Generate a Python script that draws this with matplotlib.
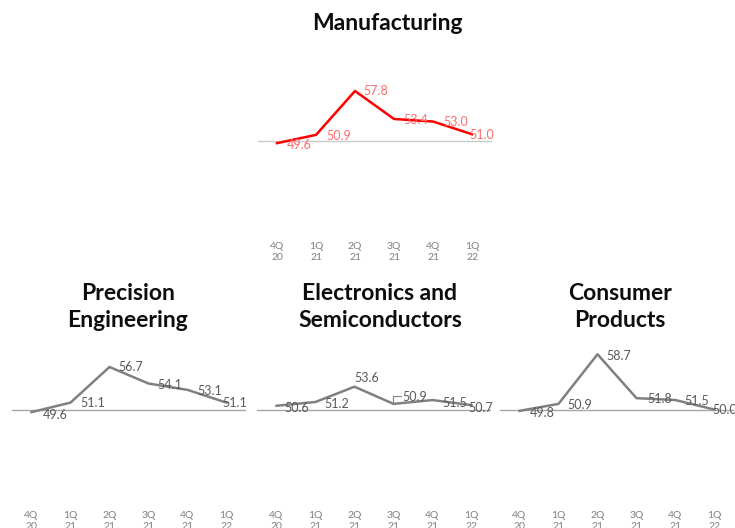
import matplotlib.pyplot as plt

plt.rcParams['font.family'] = ['Lato', 'DejaVu Sans']

quarters = ['4Q\n20', '1Q\n21', '2Q\n21', '3Q\n21', '4Q\n21', '1Q\n22']

manufacturing = [49.6, 50.9, 57.8, 53.4, 53.0, 51.0]
precision = [49.6, 51.1, 56.7, 54.1, 53.1, 51.1]
electronics = [50.6, 51.2, 53.6, 50.9, 51.5, 50.7]
consumer = [49.8, 50.9, 58.7, 51.8, 51.5, 50.0]

titles = ['Manufacturing', 'Precision\nEngineering',
          'Electronics and\nSemiconductors', 'Consumer\nProducts']

W, H = 735, 528
fig = plt.figure(figsize=(W / 100, H / 100), dpi=100)


def make_axes(left, top):
    # pixel box -> figure fraction
    return fig.add_axes([left / W, (H - top - 159) / H, 234 / W, 159 / H])


def draw(ax, values, line_col, lab_col, base_col, offsets):
    x = range(len(values))
    ax.axhline(50, color=base_col, lw=1, zorder=1)
    ax.plot(x, values, color=line_col, lw=1.8, zorder=2)
    for i, v in enumerate(values):
        dx, dy = offsets[i]
        ax.annotate('%.1f' % v, (i, v), xytext=(dx * 0.72, -dy * 0.72),
                    textcoords='offset points', ha='left', va='center',
                    fontsize=9, color=lab_col, zorder=3)
    ax.set_xlim(-0.5, len(values) - 0.5)
    ax.set_ylim(35, 60)
    ax.set_xticks(list(x))
    ax.set_xticklabels(quarters, fontsize=7.5, color='#7f7f7f', linespacing=1.35)
    ax.tick_params(axis='x', length=0, pad=4)
    ax.set_yticks([])
    for s in ax.spines.values():
        s.set_visible(False)
    ax.patch.set_alpha(0)


ax1 = make_axes(257.5, 77)
draw(ax1, manufacturing, '#ff0000', '#ff6b6b', '#c8c8c8',
     [(10, 2), (10, 1), (8, 0), (9, 1), (10, 0), (-3, 1)])

ax2 = make_axes(12, 346)
draw(ax2, precision, '#808080', '#595959', '#a6a6a6',
     [(11, 3), (10, 0), (9, 0), (9, 1), (10, 1), (-4, 0)])

ax3 = make_axes(257, 346)
draw(ax3, electronics, '#808080', '#595959', '#a6a6a6',
     [(8, 2), (9, 2), (0, -9), (9, -7), (10, 3), (-3, 3)])
# leader line for the 3Q 21 label
ax3.annotate('', (3, electronics[3]), xytext=(3.2, 52.1),
             arrowprops=dict(arrowstyle='-', color='#808080', lw=0.8,
                             connectionstyle='angle,angleA=180,angleB=90,rad=0',
                             shrinkA=0, shrinkB=1))

ax4 = make_axes(500, 346)
draw(ax4, consumer, '#808080', '#595959', '#a6a6a6',
     [(10, 2), (9, 1), (9, 2), (11, 1), (9, 1), (-2, 0)])

fig.text(387 / W, 1 - 24 / H, titles[0], ha='center', va='center',
         fontsize=16.5, fontweight='bold', color='#0d0d0d')
for cx, t in zip([128, 380, 620], titles[1:]):
    fig.text(cx / W, 1 - 307 / H, t, ha='center', va='center',
             fontsize=16.5, fontweight='bold', color='#0d0d0d', linespacing=1.3)

fig.savefig('out.png', dpi=100)
